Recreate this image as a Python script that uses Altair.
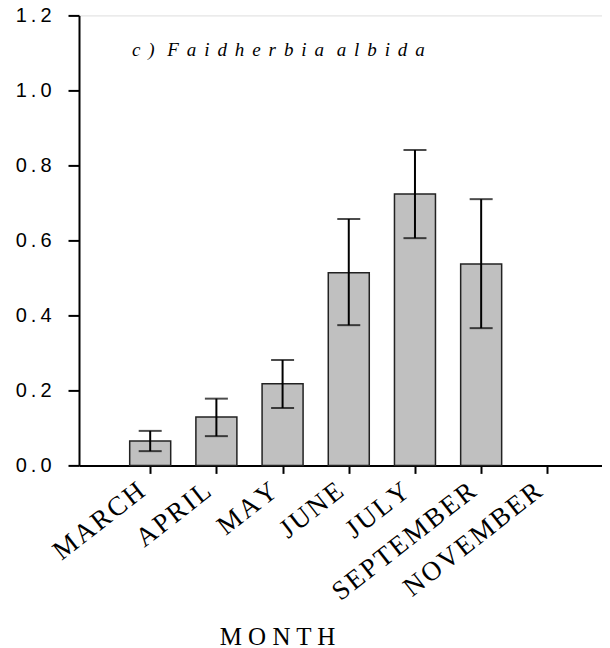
import json
import altair as alt
import pandas as pd

# ---- data ----
months = ["MARCH", "APRIL", "MAY", "JUNE", "JULY", "SEPTEMBER", "NOVEMBER"]
means = [0.065, 0.129, 0.218, 0.514, 0.724, 0.537, None]
lower = [0.038, 0.078, 0.153, 0.374, 0.606, 0.366, None]
upper = [0.092, 0.178, 0.281, 0.657, 0.841, 0.710, None]
y_ticks = [0.0, 0.2, 0.4, 0.6, 0.8, 1.0, 1.2]
title_words = ["c)", "Faidherbia", "albida"]
x_title = "MONTH"

THIN = "\u2009"
HAIR = "\u200a"
TSP = "\u2004\u200a"

df = pd.DataFrame({
    "idx": list(range(1, len(months) + 1)),
    "month": months,
    "mean": means,
    "lo": lower,
    "hi": upper,
})
df_bars = df.dropna()

x_labels = json.dumps([HAIR.join(m) for m in months])
x_scale = alt.Scale(domain=[0, 7.75], nice=False, zero=False)
y_scale = alt.Scale(domain=[0, 1.2], nice=False)

x_axis = alt.Axis(
    values=list(range(1, len(months) + 1)),
    labelExpr=f"{x_labels}[datum.value - 1]",
    labelAngle=-38,
    labelAlign="right",
    labelBaseline="top",
    labelPadding=4,
    labelOffset=-17,
    labelFont="Liberation Serif",
    labelFontSize=27,
    labelColor="black",
    labelLimit=500,
    tickSize=8,
    tickWidth=2,
    tickColor="black",
    domainColor="black",
    domainWidth=2,
    grid=False,
    title=" ".join(x_title),
    titleFont="Liberation Serif",
    titleFontSize=25,
    titleFontWeight="normal",
    titleColor="black",
    titleX=198,
    titleY=179,
    titleAlign="center",
    titleBaseline="alphabetic",
    labelOverlap=False,
    labelBound=False,
)

y_axis = alt.Axis(
    values=y_ticks,
    labelExpr=f"replace(format(datum.value, '.1f'), '.', '{THIN}.{THIN}')",
    labelFont="Liberation Sans",
    labelFontSize=20,
    labelColor="black",
    labelPadding=17,
    tickSize=11,
    tickWidth=2,
    tickColor="black",
    domainColor="black",
    domainWidth=2,
    grid=False,
    title=None,
    labelOverlap=False,
)

base = alt.Chart(df_bars)

bars = base.mark_bar(size=41, color="#c0c0c0", stroke="#222222", strokeWidth=1.5).encode(
    x=alt.X("idx:Q", scale=x_scale, axis=x_axis),
    y=alt.Y("mean:Q", scale=y_scale, axis=y_axis),
)

err = base.mark_rule(color="black", strokeWidth=2).encode(
    x="idx:Q", y="lo:Q", y2="hi:Q"
)
cap_hi = base.mark_tick(color="black", orient="horizontal", size=23, thickness=2).encode(
    x="idx:Q", y="hi:Q"
)
cap_lo = base.mark_tick(color="black", orient="horizontal", size=23, thickness=2).encode(
    x="idx:Q", y="lo:Q"
)

title_text = (TSP + " ").join(TSP.join(w) for w in title_words)
title = alt.Chart(pd.DataFrame({"t": [title_text]})).mark_text(
    font="Liberation Serif", fontSize=19, fontStyle="italic", align="left",
    baseline="alphabetic", color="black",
).encode(x=alt.value(53), y=alt.value(40.5), text="t:N")

chart = alt.layer(bars, err, cap_hi, cap_lo, title).properties(
    width=523,
    height=450,
    autosize=alt.AutoSizeParams(type="none"),
    padding={"left": 71, "top": 7.4, "right": 0, "bottom": 182},
).configure_view(stroke=None).configure(background="white")

chart.save("out.html", embed_options={"renderer": "svg", "actions": False})
